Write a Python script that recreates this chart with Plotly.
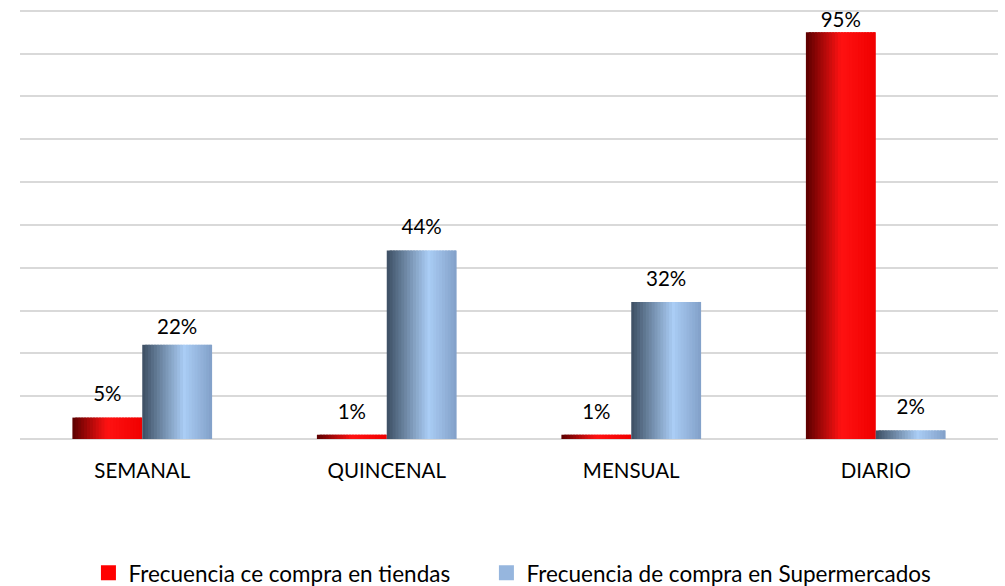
import plotly.graph_objects as go

categories = ["SEMANAL", "QUINCENAL", "MENSUAL", "DIARIO"]
tiendas = [5, 1, 1, 95]
supermercados = [22, 44, 32, 2]
series_names = ["Frecuencia ce compra en tiendas", "Frecuencia de compra en Supermercados"]

FONT = "Lato, Open Sans, sans-serif"
BAR_W = 0.2857
N = 24
xpos = list(range(len(categories)))

def lerp(c1, c2, t):
    return tuple(int(round(a + (b - a) * t)) for a, b in zip(c1, c2))

def grad(stops, t):
    for (p1, c1), (p2, c2) in zip(stops, stops[1:]):
        if p1 <= t <= p2:
            return lerp(c1, c2, (t - p1) / (p2 - p1) if p2 > p1 else 0)
    return stops[-1][1]

red_stops = [(0, (90, 0, 0)), (0.5, (255, 18, 18)), (1, (240, 0, 0))]
blue_stops = [(0, (60, 78, 98)), (0.6, (170, 205, 245)), (1, (130, 160, 200))]

fig = go.Figure()

def add_series(vals, stops, offset0, name, legend_color, legend_id, label_sizes):
    w = BAR_W / N
    for i in range(N):
        t = (i + 0.5) / N
        c = grad(stops, t)
        sw = w * 1.8 if i < N - 1 else w
        fig.add_trace(go.Bar(
            x=xpos, y=vals, width=sw, offset=offset0 + i * w,
            marker=dict(color="rgb(%d,%d,%d)" % c, line=dict(width=0)),
            name=name, showlegend=False, hoverinfo="skip",
        ))
    fig.add_trace(go.Scatter(
        x=[p + offset0 + BAR_W / 2 for p in xpos], y=vals, mode="markers+text",
        marker=dict(size=label_sizes, color="rgba(0,0,0,0)",
                    line=dict(width=0, color="rgba(0,0,0,0)")),
        text=[f"{v}%" for v in vals], textposition="top center",
        textfont=dict(family=FONT, size=20.5, color="#000000"),
        cliponaxis=False, showlegend=False, hoverinfo="skip",
    ))
    # legend entry (no data of its own)
    fig.add_trace(go.Scatter(
        x=[None], y=[None], mode="markers", name=name, legend=legend_id,
        marker=dict(symbol="square", size=15, color=legend_color, line=dict(width=0)),
        showlegend=True, hoverinfo="skip",
    ))

add_series(tiendas, red_stops, -BAR_W, series_names[0], "#ff0000", "legend", [16, 16, 16, 0])
add_series(supermercados, blue_stops, 0, series_names[1], "rgb(150,182,222)", "legend2", [7, 16, 16, 16])

legend_common = dict(orientation="h", xref="container", xanchor="left",
                     y=0.022, yref="container", yanchor="middle",
                     font=dict(family=FONT, size=22.5), itemwidth=30,
                     bgcolor="rgba(0,0,0,0)")

fig.update_layout(
    width=1005, height=586,
    margin=dict(l=20, r=7, t=9, b=147),
    barmode="overlay",
    plot_bgcolor="white", paper_bgcolor="white",
    font=dict(family=FONT, size=16, color="#000000"),
    showlegend=True,
    legend=dict(x=0.088, **legend_common),
    legend2=dict(x=0.484, **legend_common),
    xaxis=dict(range=[-0.5, len(categories) - 0.5], tickvals=xpos, ticktext=categories,
               showgrid=False, showline=False, zeroline=False, ticks="outside", ticklen=13,
               tickcolor="rgba(0,0,0,0)", tickfont=dict(family=FONT, size=20.5),
               automargin=False),
    yaxis=dict(range=[0, 100.4], tick0=0, dtick=10, showticklabels=False, showgrid=True,
               gridcolor="#d9d9d9", gridwidth=1.5, zeroline=True, zerolinecolor="#d9d9d9",
               zerolinewidth=1.5, automargin=False),
)

fig.write_html("out.html", config={"displayModeBar": False},
               post_script="document.body.style.margin='0';document.body.style.overflow='hidden';")
